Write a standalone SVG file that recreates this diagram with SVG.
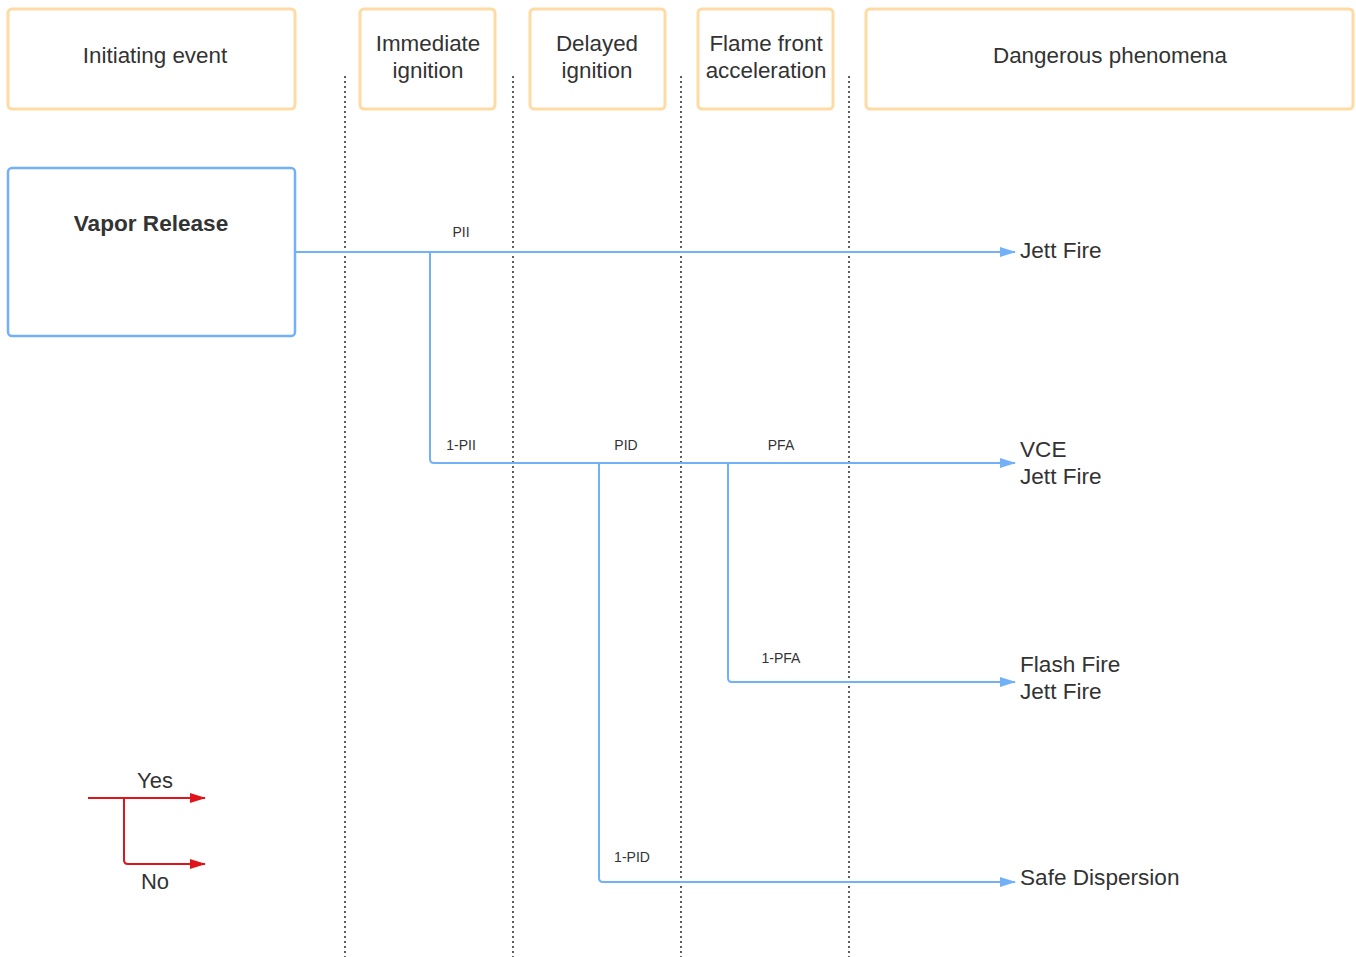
<svg xmlns="http://www.w3.org/2000/svg" width="1356" height="957" viewBox="0 0 1356 957">
  <style>
    text { font-family: "Liberation Sans", Arial, sans-serif; fill: #333333; }
    .hdr { fill: #ffffff; stroke: #fedba4; stroke-width: 3; }
    .hdr-t { font-size: 22.4px; text-anchor: middle; }
    .lane { stroke: #5e5e5e; stroke-width: 2; stroke-dasharray: 2 3; fill: none; }
    .flow { stroke: #72b1f7; stroke-width: 2; fill: none; }
    .lbl { font-size: 14px; text-anchor: middle; }
    .out { font-size: 22.6px; }
    .legend { stroke: #e0141b; stroke-width: 2; fill: none; }
  </style>
  <defs>
    <marker id="arrow-blue" markerWidth="16" markerHeight="10" refX="15" refY="5" orient="auto" markerUnits="userSpaceOnUse">
      <path d="M0,0 L16,5 L0,10 Z" fill="#72b1f7"/>
    </marker>
    <marker id="arrow-red" markerWidth="16" markerHeight="10" refX="15" refY="5" orient="auto" markerUnits="userSpaceOnUse">
      <path d="M0,0 L16,5 L0,10 Z" fill="#e0141b"/>
    </marker>
  </defs>

  <!-- lane separators -->
  <g id="lanes">
    <line class="lane" x1="345" y1="76" x2="345" y2="957"/>
    <line class="lane" x1="513" y1="76" x2="513" y2="957"/>
    <line class="lane" x1="681" y1="76" x2="681" y2="957"/>
    <line class="lane" x1="849" y1="76" x2="849" y2="957"/>
  </g>

  <!-- column headers -->
  <g id="hdr-initiating">
    <rect class="hdr" x="8" y="9" width="287" height="100" rx="4"/>
    <text class="hdr-t" x="155" y="63">Initiating event</text>
  </g>
  <g id="hdr-immediate">
    <rect class="hdr" x="360" y="9" width="135" height="100" rx="4"/>
    <text class="hdr-t" x="428" y="51">Immediate</text>
    <text class="hdr-t" x="428" y="78">ignition</text>
  </g>
  <g id="hdr-delayed">
    <rect class="hdr" x="530" y="9" width="135" height="100" rx="4"/>
    <text class="hdr-t" x="597" y="51">Delayed</text>
    <text class="hdr-t" x="597" y="78">ignition</text>
  </g>
  <g id="hdr-flame">
    <rect class="hdr" x="698" y="9" width="135" height="100" rx="4"/>
    <text class="hdr-t" x="766" y="51">Flame front</text>
    <text class="hdr-t" x="766" y="78">acceleration</text>
  </g>
  <g id="hdr-dangerous">
    <rect class="hdr" x="866" y="9" width="487" height="100" rx="4"/>
    <text class="hdr-t" x="1110" y="63">Dangerous phenomena</text>
  </g>

  <!-- initiating event -->
  <g id="vapor-release">
    <rect x="8" y="168" width="287" height="168" rx="4" fill="#ffffff" stroke="#72b1f7" stroke-width="2.5"/>
    <text x="151" y="231" font-size="22.6" font-weight="bold" text-anchor="middle">Vapor Release</text>
  </g>

  <!-- event tree branches -->
  <g id="connectors">
    <line class="flow" x1="295" y1="252" x2="1015" y2="252" marker-end="url(#arrow-blue)"/>
    <path class="flow" d="M430,252 V459 Q430,463 434,463 H1015" marker-end="url(#arrow-blue)"/>
    <path class="flow" d="M599,463 V878 Q599,882 603,882 H1015" marker-end="url(#arrow-blue)"/>
    <path class="flow" d="M728,463 V678 Q728,682 732,682 H1015" marker-end="url(#arrow-blue)"/>
    <text class="lbl" x="461" y="237">PII</text>
    <text class="lbl" x="461" y="450">1-PII</text>
    <text class="lbl" x="626" y="450">PID</text>
    <text class="lbl" x="781" y="450">PFA</text>
    <text class="lbl" x="781" y="663">1-PFA</text>
    <text class="lbl" x="632" y="862">1-PID</text>
  </g>

  <!-- outcomes -->
  <g id="out-jett">
    <text class="out" x="1020" y="258">Jett Fire</text>
  </g>
  <g id="out-vce">
    <text class="out" x="1020" y="457">VCE</text>
    <text class="out" x="1020" y="484">Jett Fire</text>
  </g>
  <g id="out-flash">
    <text class="out" x="1020" y="672">Flash Fire</text>
    <text class="out" x="1020" y="699">Jett Fire</text>
  </g>
  <g id="out-safe">
    <text class="out" x="1020" y="885">Safe Dispersion</text>
  </g>

  <!-- legend -->
  <g id="legend">
    <line class="legend" x1="88" y1="798" x2="205" y2="798" marker-end="url(#arrow-red)"/>
    <path class="legend" d="M124,798 V860 Q124,864 128,864 H205" marker-end="url(#arrow-red)"/>
    <text x="155" y="788" font-size="22" text-anchor="middle">Yes</text>
    <text x="155" y="889" font-size="22" text-anchor="middle">No</text>
  </g>
</svg>
